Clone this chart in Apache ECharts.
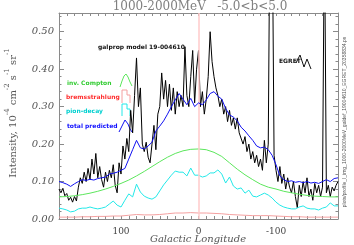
<!DOCTYPE html>
<html><head><meta charset="utf-8">
<script src="https://cdn.jsdelivr.net/npm/echarts@6/dist/echarts.min.js"></script>
<style>html,body{margin:0;padding:0;background:#fff}#c{width:354px;height:245px}</style>
</head><body><div id="c"></div>
<script>
// Longitude grids (degrees), 180 -> -180
const egretLon = []; for (let l = 180; l >= -180; l -= 2.5) egretLon.push(l);
const modelLon = []; for (let l = 180; l >= -180; l -= 5) modelLon.push(l);
const smoothLon = []; for (let l = 180; l >= -180; l -= 10) smoothLon.push(l);

// EGRET observed intensity (2.5 deg bins)
const egret = [
  0.080,0.070,0.082,0.062,0.068,0.050,0.058,0.045,
  0.060,0.048,0.085,0.110,0.095,0.125,0.100,0.135,
  0.105,0.160,0.120,0.175,0.110,0.140,0.105,0.085,
  0.125,0.100,0.130,0.110,0.145,0.090,0.070,0.150,
  0.120,0.195,0.160,0.215,0.180,0.290,0.230,0.330,
  0.430,0.300,0.350,0.200,0.180,0.205,0.165,0.150,
  0.200,0.250,0.185,0.280,0.300,0.390,0.320,0.370,
  0.300,0.360,0.290,0.350,0.280,0.340,0.300,0.330,
  0.300,0.460,0.330,0.300,0.380,0.450,0.310,0.400,
  0.450,0.300,0.340,0.280,0.320,0.380,0.500,0.420,
  0.380,0.350,0.330,0.300,0.320,0.280,0.300,0.260,
  0.290,0.250,0.270,0.240,0.270,0.230,0.235,0.200,
  0.220,0.180,0.200,0.160,0.180,0.150,0.170,0.140,
  0.160,0.130,0.210,0.150,0.200,0.900,0.850,0.170,
  0.130,0.100,0.140,0.095,0.120,0.080,0.110,0.085,
  0.070,0.100,0.060,0.030,0.090,0.060,0.100,0.070,
  0.110,0.060,0.080,0.050,0.095,0.070,0.090,0.060,
  0.085,0.800,0.070,0.090,0.060,0.085,0.075,0.090,
  0.100
];
// total predicted (5 deg)
const totalPredicted = [
  0.100,0.097,0.093,0.087,0.094,0.100,0.105,0.103,
  0.106,0.104,0.108,0.110,0.112,0.120,0.122,0.125,
  0.130,0.135,0.160,0.185,0.210,0.190,0.187,0.195,
  0.205,0.235,0.248,0.262,0.280,0.300,0.318,0.335,
  0.320,0.305,0.322,0.300,0.310,0.305,0.318,0.335,
  0.340,0.328,0.320,0.295,0.278,0.272,0.262,0.245,
  0.235,0.222,0.210,0.195,0.190,0.192,0.185,0.170,
  0.145,0.115,0.105,0.100,0.102,0.098,0.100,0.097,
  0.100,0.096,0.098,0.095,0.100,0.105,0.100,0.108,
  0.110
];
// pion-decay (5 deg)
const pionDecay = [
  0.029,0.027,0.024,0.019,0.021,0.027,0.029,0.029,
  0.032,0.029,0.027,0.029,0.032,0.040,0.048,0.037,
  0.032,0.050,0.067,0.059,0.093,0.072,0.061,0.056,
  0.053,0.059,0.075,0.091,0.104,0.117,0.128,0.125,
  0.125,0.115,0.136,0.117,0.117,0.112,0.115,0.123,
  0.123,0.131,0.120,0.096,0.112,0.088,0.080,0.083,
  0.069,0.077,0.061,0.059,0.064,0.069,0.064,0.056,
  0.045,0.037,0.032,0.029,0.027,0.027,0.032,0.035,
  0.029,0.027,0.027,0.024,0.029,0.032,0.043,0.035,
  0.035
];
// inverse Compton (10 deg)
const invCompton = [
  0.059,0.060,0.062,0.065,0.069,0.074,0.080,0.087,0.095,0.104,
  0.115,0.127,0.140,0.153,0.165,0.175,0.182,0.186,0.187,0.185,
  0.178,0.167,0.150,0.133,0.118,0.105,0.093,0.085,0.080,0.074,
  0.070,0.066,0.063,0.061,0.060,0.059,0.059
];
// bremsstrahlung (10 deg)
const bremss = [
  0.005,0.005,0.005,0.006,0.006,0.007,0.007,0.008,0.008,0.010,
  0.012,0.011,0.011,0.012,0.014,0.016,0.016,0.017,0.016,0.016,
  0.015,0.014,0.012,0.011,0.010,0.009,0.009,0.009,0.008,0.007,
  0.006,0.006,0.005,0.005,0.005,0.005,0.005
];
const yTickLabels = [0, 0.1, 0.2, 0.3, 0.4, 0.5];
const xTickLabels = [100, 0, -100];

const pair = (lon, vals) => lon.map((l, i) => [l, vals[i]]);
const frame = '#8a8a8a';
const chart = echarts.init(document.getElementById('c'));

function xAx(pos, labels) {
  return {
    type: 'value', min: -180, max: 180, interval: 10, inverse: true, position: pos,
    axisLine: {show: true, onZero: false, lineStyle: {color: frame, width: 1}},
    axisTick: {show: true, inside: true, length: 3, lineStyle: {color: frame}},
    axisLabel: labels ? {show: true, customValues: xTickLabels, color: '#444', fontSize: 9,
      fontFamily: 'DejaVu Serif', margin: 8, formatter: v => String(v)} : {show: false},
    splitLine: {show: false}
  };
}
function yAx(pos, labels) {
  return {
    type: 'value', min: 0, max: 0.55, interval: 0.1, position: pos,
    axisLine: {show: true, onZero: false, lineStyle: {color: frame, width: 1}},
    axisTick: {show: true, inside: true, length: 5, lineStyle: {color: frame}},
    minorTick: {show: true, splitNumber: 5, length: 2.5, lineStyle: {color: frame}},
    axisLabel: labels ? {show: true, customValues: yTickLabels, color: '#555', fontSize: 10,
      fontStyle: 'italic', fontFamily: 'DejaVu Serif', margin: 5, formatter: v => v.toFixed(2)} : {show: false},
    splitLine: {show: false}
  };
}
const line = (name, data, color, z, w) => ({
  name, type: 'line', data, showSymbol: false, symbol: 'none', clip: true, z,
  lineStyle: {color, width: w || 1}, emphasis: {disabled: true}, silent: true
});

const T = (text, x, y, fill, extra) => ({type: 'text', x, y, silent: true,
  style: Object.assign({text, fill, font: 'bold 6px "DejaVu Sans"', align: 'left', verticalAlign: 'middle'}, extra || {})});
const P = (points, stroke) => ({type: 'polyline', silent: true, shape: {points},
  style: {stroke, lineWidth: 1, fill: null}});

chart.setOption({
  animation: false,
  grid: {left: 59, right: 16, top: 13, bottom: 26},
  xAxis: [xAx('bottom', true), xAx('top', false)],
  yAxis: [yAx('left', true), yAx('right', false)],
  series: [
    Object.assign(line('zero', [], '#ffc4c4', 1), {markLine: {silent: true, symbol: 'none',
      label: {show: false}, lineStyle: {color: '#ffcaca', width: 1.5, type: 'solid'}, data: [{xAxis: 0}]}}),
    line('EGRET', pair(egretLon, egret), '#000', 3),
    line('inv. Compton', pair(smoothLon, invCompton), '#5ce65c', 4),
    line('bremsstrahlung', pair(smoothLon, bremss), '#f4a0a0', 4),
    line('pion-decay', pair(modelLon, pionDecay), '#22e8e8', 4),
    line('total predicted', pair(modelLon, totalPredicted), '#1010f0', 5)
  ],
  graphic: [
    T('1000-2000MeV   -5.0<b<5.0', 200, 7, '#808080', {font: '12px "DejaVu Serif"', align: 'center'}),
    T('galprop model 19-004610', 98, 47, '#111'),
    T('inv. Compton', 67, 83, '#33cc33'),
    T('bremsstrahlung', 66, 97, '#ff3030'),
    T('pion-decay', 66, 111, '#00d0d0'),
    T('total predicted', 67, 126, '#1010ff'),
    T('EGRET', 279, 61, '#111'),
    P([[120,87],[122,81],[124,76],[126,74],[128,77],[130,82],[132,86]], '#5ce65c'),
    P([[122,103],[122,90],[127,90],[127,95],[130,95],[130,103]], '#f4a0a0'),
    P([[122,116],[122,104],[127,104],[127,109],[130,109],[130,116]], '#22e8e8'),
    P([[119,132],[122,126],[125,120],[128,124],[130,129],[132,132]], '#1010f0'),
    P([[296,63],[300,55],[304,67],[307,59],[311,69]], '#111'),
    T('Galactic Longitude', 198, 239, '#555', {font: 'italic 10px "DejaVu Serif"', align: 'center'}),
    {type: 'text', x: 11, y: 113, rotation: Math.PI / 2, silent: true,
      style: {text: '{n|Intensity, 10}{s|-4}{n| cm}{s|-2}{n| s}{s|-1}{n| sr}{s|-1}',
        align: 'center', verticalAlign: 'middle', fill: '#555',
        rich: {n: {fontSize: 10, fontFamily: 'DejaVu Serif', lineHeight: 14, verticalAlign: 'bottom', fill: '#555'},
               s: {fontSize: 7, fontFamily: 'DejaVu Serif', lineHeight: 14, verticalAlign: 'top', fill: '#555'}}}},
    {type: 'text', x: 345, y: 122, rotation: Math.PI / 2, silent: true,
      style: {text: 'plots/profile_l_img_1000-2000MeV_galdef_19004610_EGRET_20358834.ps',
        align: 'center', verticalAlign: 'middle', fill: '#555', font: '5px "Liberation Sans"'}}
  ]
});
</script></body></html>
